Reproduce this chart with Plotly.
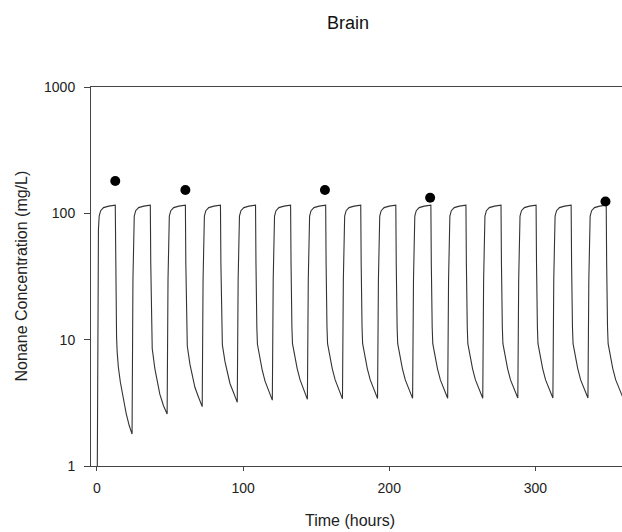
import plotly.graph_objects as go

# Simulated brain concentration (mg/L) vs time (hours)
hours = [
    0, 0.6, 1.0, 1.5, 2.5, 4.5, 8, 12.5, 12.8, 13.1, 13.4, 13.8, 14.6, 16, 18, 20, 22,
    24, 24.6, 25, 25.5, 26.5, 28.5, 32, 36.5, 36.8, 37.1, 37.4, 37.8, 39.6, 41, 43, 45.5,
    48, 48.6, 49, 49.5, 50.5, 52.5, 56, 60.5, 60.8, 61.1, 61.4, 61.8, 63.6, 65, 67, 69.5,
    72, 72.6, 73, 73.5, 74.5, 76.5, 80, 84.5, 84.8, 85.1, 85.4, 85.8, 87.6, 89, 91, 93.5,
    96, 96.6, 97, 97.5, 98.5, 100.5, 104, 108.5, 108.8, 109.1, 109.4, 109.8, 111.6, 113, 115, 117.5,
    120, 120.6, 121, 121.5, 122.5, 124.5, 128, 132.5, 132.8, 133.1, 133.4, 133.8, 135.6, 137, 139, 141.5,
    144, 144.6, 145, 145.5, 146.5, 148.5, 152, 156.5, 156.8, 157.1, 157.4, 157.8, 159.6, 161, 163, 165.5,
    168, 168.6, 169, 169.5, 170.5, 172.5, 176, 180.5, 180.8, 181.1, 181.4, 181.8, 183.6, 185, 187, 189.5,
    192, 192.6, 193, 193.5, 194.5, 196.5, 200, 204.5, 204.8, 205.1, 205.4, 205.8, 207.6, 209, 211, 213.5,
    216, 216.6, 217, 217.5, 218.5, 220.5, 224, 228.5, 228.8, 229.1, 229.4, 229.8, 231.6, 233, 235, 237.5,
    240, 240.6, 241, 241.5, 242.5, 244.5, 248, 252.5, 252.8, 253.1, 253.4, 253.8, 255.6, 257, 259, 261.5,
    264, 264.6, 265, 265.5, 266.5, 268.5, 272, 276.5, 276.8, 277.1, 277.4, 277.8, 279.6, 281, 283, 285.5,
    288, 288.6, 289, 289.5, 290.5, 292.5, 296, 300.5, 300.8, 301.1, 301.4, 301.8, 303.6, 305, 307, 309.5,
    312, 312.6, 313, 313.5, 314.5, 316.5, 320, 324.5, 324.8, 325.1, 325.4, 325.8, 327.6, 329, 331, 333.5,
    336, 336.6, 337, 337.5, 338.5, 340.5, 344, 348.5, 348.8, 349.1, 349.4, 349.8, 351.6, 353, 355, 357.5, 360,
]
concentration = [
    0.3, 30, 75, 95, 105, 111, 114, 116, 40, 16, 10.5, 8.0, 6.1, 4.6, 3.33, 2.6, 2.1,
    1.79, 30, 75, 95, 105, 111, 114, 116, 40, 16, 11.5, 8.5, 5.9, 4.8, 3.7, 3.0,
    2.58, 30, 75, 95, 105, 111, 114, 116, 40, 16, 12.0, 8.9, 6.4, 5.3, 4.2, 3.5,
    2.95, 30, 75, 95, 105, 111, 114, 116, 40, 16, 12.2, 9.1, 6.7, 5.6, 4.5, 3.8,
    3.19, 30, 75, 95, 105, 111, 114, 116, 40, 16, 12.4, 9.2, 6.8, 5.8, 4.7, 3.9,
    3.32, 30, 75, 95, 105, 111, 114, 116, 40, 16, 12.5, 9.3, 6.9, 5.9, 4.8, 4.0,
    3.37, 30, 75, 95, 105, 111, 114, 116, 40, 16, 12.5, 9.3, 6.9, 5.9, 4.8, 4.0,
    3.40, 30, 75, 95, 105, 111, 114, 116, 40, 16, 12.5, 9.3, 6.9, 5.9, 4.8, 4.0,
    3.42, 30, 75, 95, 105, 111, 114, 116, 40, 16, 12.5, 9.3, 6.9, 5.9, 4.8, 4.0,
    3.43, 30, 75, 95, 105, 111, 114, 116, 40, 16, 12.5, 9.3, 6.9, 5.9, 4.8, 4.0,
    3.44, 30, 75, 95, 105, 111, 114, 116, 40, 16, 12.5, 9.3, 6.9, 5.9, 4.8, 4.0,
    3.44, 30, 75, 95, 105, 111, 114, 116, 40, 16, 12.5, 9.3, 6.9, 5.9, 4.8, 4.0,
    3.45, 30, 75, 95, 105, 111, 114, 116, 40, 16, 12.5, 9.3, 6.9, 5.9, 4.8, 4.0,
    3.45, 30, 75, 95, 105, 111, 114, 116, 40, 16, 12.5, 9.3, 6.9, 5.9, 4.8, 4.0,
    3.45, 30, 75, 95, 105, 111, 114, 116, 40, 16, 12.5, 9.3, 6.9, 5.9, 4.8, 4.0, 3.46,
]

# Measured data points
obs_hours = [12.5, 60.5, 156, 228, 348]
obs_conc = [180, 153, 153, 133, 124]

x_ticks = [0, 100, 200, 300]
y_ticks = [1, 10, 100, 1000]
y_tick_text = ["1", "10", "100", "1000"]

FONT = "Liberation Sans, Arial, sans-serif"
W, H = 622, 532
L, R, T, B = 91, 0, 87, 66

fig = go.Figure()
fig.add_trace(go.Scatter(
    x=hours, y=concentration, mode="lines",
    line=dict(color="#333333", width=1.1), showlegend=False, hoverinfo="skip",
))
fig.add_trace(go.Scatter(
    x=obs_hours, y=obs_conc, mode="markers",
    marker=dict(color="black", size=10), showlegend=False,
))

fig.update_layout(
    width=W, height=H,
    margin=dict(l=L, r=R, t=T, b=B, pad=0),
    paper_bgcolor="white", plot_bgcolor="white",
    font=dict(family=FONT, color="#222222", size=14),
    title=dict(text="Brain", x=348 / W, xref="container", xanchor="center",
               y=1 - 23 / H, yref="container", yanchor="middle",
               font=dict(size=18, family=FONT, color="#111111")),
    xaxis=dict(
        range=[-4.1, 359.3], tickvals=x_ticks, ticks="outside", ticklen=4,
        tickcolor="#444444", showline=True, linecolor="#444444", linewidth=1,
        mirror=True, showgrid=False, zeroline=False, ticklabelstandoff=5,
        tickfont=dict(size=14, family=FONT, color="#222222"),
    ),
    yaxis=dict(
        type="log", range=[0, 3], tickvals=y_ticks, ticktext=y_tick_text,
        ticks="outside", ticklen=6, tickcolor="#444444",
        showline=True, linecolor="#444444", linewidth=1,
        showgrid=False, zeroline=False, ticklabelstandoff=6,
        tickfont=dict(size=14, family=FONT, color="#222222"),
    ),
    annotations=[
        dict(text="Time (hours)", xref="paper", yref="paper",
             x=(350 - L) / (W - L - R), y=-(520 - (H - B)) / (H - T - B),
             xanchor="center", yanchor="middle", showarrow=False,
             font=dict(size=16, family=FONT, color="#222222")),
        dict(text="Nonane Concentration (mg/L)", xref="paper", yref="paper",
             x=(21 - L) / (W - L - R), y=0.5, textangle=-90,
             xanchor="center", yanchor="middle", showarrow=False,
             font=dict(size=16, family=FONT, color="#222222")),
    ],
)

fig.write_html("out.html")
